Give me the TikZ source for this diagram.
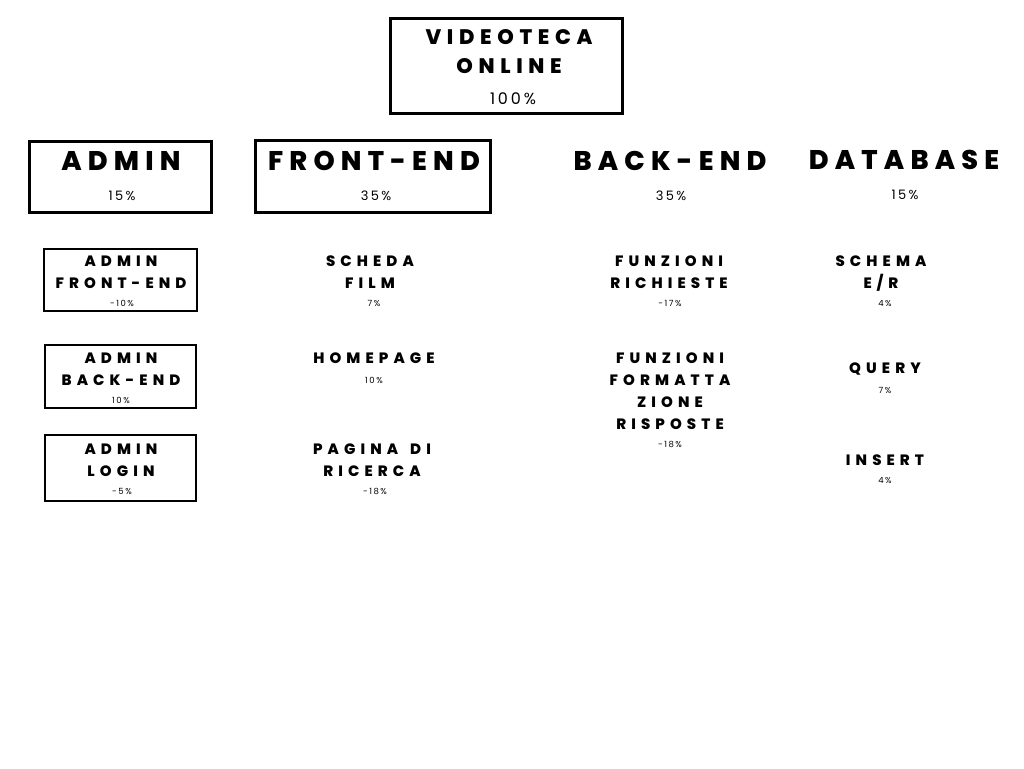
\documentclass[tikz,border=0pt]{standalone}
\usepackage{fontspec}
\usepackage{tikz}
\usetikzlibrary{positioning}
\newfontfamily\hdfont{Poppins}[LetterSpace=23, BoldFont={* ExtraBold}]
\newfontfamily\tpfont{Poppins}[LetterSpace=27, BoldFont={* ExtraBold}]
\newfontfamily\sbfont{Poppins}[LetterSpace=34, BoldFont={* ExtraBold}]
\newfontfamily\pcfont{Poppins}[LetterSpace=18]
\tikzset{
	bigbox/.style ={rectangle, draw=black, line width=3pt, inner sep=0pt},
	subbox/.style ={rectangle, draw=black, line width=2.6pt, inner sep=0pt},
	toptitle/.style={align=center, inner sep=0pt, font=\tpfont\bfseries\fontsize{21}{29}\selectfont},
	maintitle/.style={align=center, inner sep=0pt, font=\hdfont\bfseries\fontsize{27}{32}\selectfont},
	subtitle/.style={align=center, inner sep=0pt, font=\sbfont\bfseries\fontsize{15}{22}\selectfont},
	bigpct/.style  ={inner sep=0pt, font=\pcfont\fontsize{16}{18}\selectfont},
	midpct/.style  ={inner sep=0pt, font=\pcfont\fontsize{13}{15}\selectfont},
	smallpct/.style={inner sep=0pt, font=\pcfont\fontsize{8.5}{10}\selectfont},
}
\begin{document}
\begin{tikzpicture}[x=1pt, y=-1pt]
	\useasboundingbox (0,0) rectangle (1024,768);
	% project
	\node[bigbox, minimum width=232pt, minimum height=94pt] (vo) at (506,66) {};
	\node[toptitle] (voT) at (509,52) {VIDEOTECA\\ONLINE};
	\node[bigpct] (voP) at (513,99) {100\%};
	% areas
	\node[bigbox, minimum width=182pt, minimum height=71pt] (adm) at (120,176.5) {};
	\node[maintitle] (admT) at (121,161) {ADMIN};
	\node[midpct] (admP) at (122,196) {15\%};
	\node[bigbox, minimum width=235pt, minimum height=72pt] (fe) at (372.5,176) {};
	\node[maintitle] (feT) at (374,161) {FRONT-END};
	\node[midpct] (feP) at (376,196) {35\%};
	\node[maintitle] (be) at (670,161) {BACK-END};
	\node[midpct] (beP) at (671,196) {35\%};
	\node[maintitle] (db) at (904,160) {DATABASE};
	\node[midpct] (dbP) at (905,195) {15\%};
	% admin
	\node[subbox, minimum width=153pt, minimum height=62pt] (af) at (120.5,280) {};
	\node[subtitle] (afT) at (121,272) {ADMIN\\FRONT-END};
	\node[smallpct] (afP) at (122,303) {-10\%};
	\node[subbox, minimum width=151pt, minimum height=63pt] (ab) at (120.5,376.5) {};
	\node[subtitle] (abT) at (121,369) {ADMIN\\BACK-END};
	\node[smallpct] (abP) at (121,400) {10\%};
	\node[subbox, minimum width=151pt, minimum height=66pt] (al) at (120.5,468) {};
	\node[subtitle] (alT) at (121,460) {ADMIN\\LOGIN};
	\node[smallpct] (alP) at (122,491) {-5\%};
	% front-end
	\node[subtitle] (sf) at (370,272) {SCHEDA\\FILM};
	\node[smallpct] (sfP) at (374,303) {7\%};
	\node[subtitle] (hp) at (374,358) {HOMEPAGE};
	\node[smallpct] (hpP) at (374,380) {10\%};
	\node[subtitle] (pr) at (372,460) {PAGINA\hspace{4pt} DI\\RICERCA};
	\node[smallpct] (prP) at (375,491) {-18\%};
	% back-end
	\node[subtitle] (fr) at (669,272) {FUNZIONI\\RICHIESTE};
	\node[smallpct] (frP) at (670,303) {-17\%};
	\node[subtitle] (ff) at (670,391) {FUNZIONI\\FORMATTA\\ZIONE\\RISPOSTE};
	\node[smallpct] (ffP) at (670,444) {-18\%};
	% database
	\node[subtitle] (er) at (881,274) {SCHEMA\\E/R};
	\node[smallpct] (erP) at (885,304) {4\%};
	\node[subtitle] (qu) at (885,369) {QUERY};
	\node[smallpct] (quP) at (885,390) {7\%};
	\node[subtitle] (in) at (885,460) {INSERT};
	\node[smallpct] (inP) at (885,481) {4\%};
\end{tikzpicture}
\end{document}
